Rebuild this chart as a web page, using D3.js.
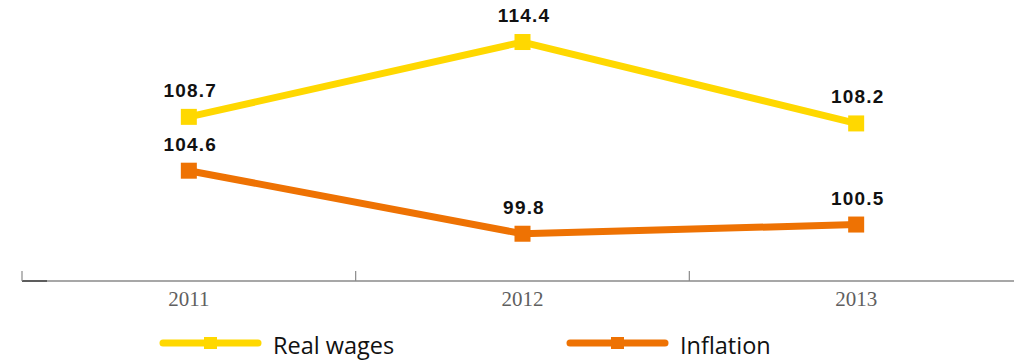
<!DOCTYPE html>
<html>
<head>
<meta charset="utf-8">
<script src="https://cdn.jsdelivr.net/npm/d3@7"></script>
<style>
  html, body { margin: 0; padding: 0; background: #fff; }
  svg { display: block; }
</style>
</head>
<body>
<svg id="chart" width="1014" height="361"></svg>
<script>
// Index values by year
const years = ["2011", "2012", "2013"];
const realWages = [108.7, 114.4, 108.2];
const inflation = [104.6, 99.8, 100.5];
const seriesNames = ["Real wages", "Inflation"];
const seriesColors = ["#FFD800", "#EE7203"];

const svg = d3.select("#chart");
const axisY = 281;

const x = d3.scaleBand().domain(years).range([22, 1023]);
const y = d3.scaleLinear().domain([96.2, 117.6]).range([axisY, 0]);

// Baseline axis with tick marks at band boundaries
const g = svg.append("g");
g.append("line")
  .attr("x1", 22).attr("x2", 1014)
  .attr("y1", axisY).attr("y2", axisY)
  .attr("stroke", "#8a8a8a").attr("stroke-width", 1.5);
g.append("line")
  .attr("x1", 22).attr("x2", 47)
  .attr("y1", axisY).attr("y2", axisY)
  .attr("stroke", "#555").attr("stroke-width", 1.8);
g.selectAll("line.tick")
  .data(years)
  .join("line")
  .attr("class", "tick")
  .attr("x1", d => x(d)).attr("x2", d => x(d))
  .attr("y1", axisY).attr("y2", axisY - 10)
  .attr("stroke", "#8a8a8a").attr("stroke-width", 1.2);
g.selectAll("text.year")
  .data(years)
  .join("text")
  .attr("class", "year")
  .attr("x", d => x(d) + x.bandwidth() / 2)
  .attr("y", 306)
  .attr("text-anchor", "middle")
  .attr("font-family", "'Liberation Serif', 'DejaVu Serif', serif")
  .attr("font-size", 21)
  .attr("fill", "#5f5f5f")
  .text(d => d);

const cx = d => x(d) + x.bandwidth() / 2;
const series = [realWages, inflation];

series.forEach((vals, i) => {
  const pts = years.map((yr, j) => ({ yr, v: vals[j] }));
  const line = d3.line().x(p => cx(p.yr)).y(p => y(p.v));
  svg.append("path")
    .datum(pts)
    .attr("d", line)
    .attr("fill", "none")
    .attr("stroke", seriesColors[i])
    .attr("stroke-width", 7)
    .attr("stroke-linejoin", "miter");
  svg.selectAll(null)
    .data(pts)
    .join("rect")
    .attr("x", p => cx(p.yr) - 8)
    .attr("y", p => y(p.v) - 8)
    .attr("width", 16).attr("height", 16)
    .attr("fill", seriesColors[i]);
  svg.selectAll(null)
    .data(pts)
    .join("text")
    .attr("x", p => cx(p.yr) + 1.5)
    .attr("y", p => y(p.v) - 20)
    .attr("text-anchor", "middle")
    .attr("font-family", "'Liberation Sans', Arial, sans-serif")
    .attr("font-weight", "bold")
    .attr("font-size", 19)
    .attr("letter-spacing", 1.2)
    .attr("fill", "#111")
    .text(p => p.v.toFixed(1));
});

// Legend
const legendX = [163, 570];
seriesNames.forEach((name, i) => {
  const lg = svg.append("g").attr("transform", `translate(${legendX[i]},343)`);
  lg.append("line")
    .attr("x1", 0).attr("x2", 95).attr("y1", 0).attr("y2", 0)
    .attr("stroke", seriesColors[i]).attr("stroke-width", 7)
    .attr("stroke-linecap", "round");
  lg.append("rect")
    .attr("x", 41).attr("y", -6).attr("width", 13).attr("height", 12)
    .attr("fill", seriesColors[i]);
  lg.append("text")
    .attr("x", 110).attr("y", 11)
    .attr("font-family", "'Open Sans', 'Noto Sans', sans-serif")
    .attr("font-size", 23.5)
    .attr("fill", "#111")
    .text(name);
});
</script>
</body>
</html>
